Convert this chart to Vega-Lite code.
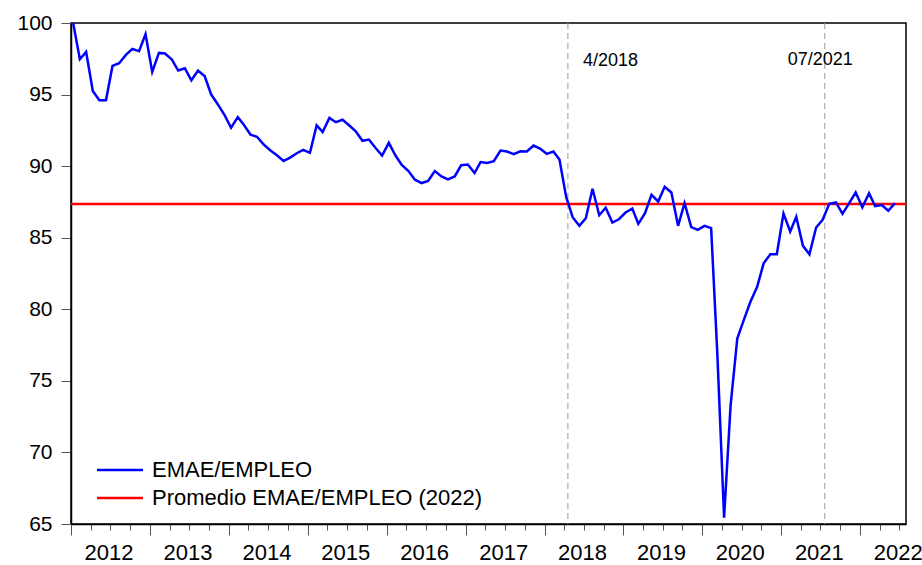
{
  "$schema": "https://vega.github.io/schema/vega-lite/v6.json",
  "width": 835,
  "height": 501,
  "autosize": {"type": "none"},
  "padding": {"left": 71, "top": 23, "right": 16, "bottom": 41},
  "background": "white",
  "config": {
    "font": "Liberation Sans",
    "view": {"stroke": "#000000", "strokeWidth": 1.5},
    "axis": {"domainColor": "#000000", "domainWidth": 1.5, "labelColor": "#000000", "labelFont": "Liberation Sans", "labelFontSize": 21, "grid": false, "title": null, "tickColor": "#555555", "tickWidth": 1}
  },
  "datasets": {
    "serie": [
      {"fecha": "2012-01-11", "valor": 100.0}, {"fecha": "2012-02-11", "valor": 97.47}, {"fecha": "2012-03-11", "valor": 97.98}, {"fecha": "2012-04-11", "valor": 95.25}, {"fecha": "2012-05-11", "valor": 94.6}, {"fecha": "2012-06-11", "valor": 94.6}, {"fecha": "2012-07-11", "valor": 97.0}, {"fecha": "2012-08-11", "valor": 97.19}, {"fecha": "2012-09-11", "valor": 97.77}, {"fecha": "2012-10-11", "valor": 98.19}, {"fecha": "2012-11-11", "valor": 98.03}, {"fecha": "2012-12-11", "valor": 99.22},
      {"fecha": "2013-01-11", "valor": 96.58}, {"fecha": "2013-02-11", "valor": 97.91}, {"fecha": "2013-03-11", "valor": 97.87}, {"fecha": "2013-04-11", "valor": 97.47}, {"fecha": "2013-05-11", "valor": 96.68}, {"fecha": "2013-06-11", "valor": 96.84}, {"fecha": "2013-07-11", "valor": 96.0}, {"fecha": "2013-08-11", "valor": 96.68}, {"fecha": "2013-09-11", "valor": 96.28}, {"fecha": "2013-10-11", "valor": 95.0}, {"fecha": "2013-11-11", "valor": 94.31}, {"fecha": "2013-12-11", "valor": 93.59},
      {"fecha": "2014-01-11", "valor": 92.68}, {"fecha": "2014-02-11", "valor": 93.42}, {"fecha": "2014-03-11", "valor": 92.89}, {"fecha": "2014-04-11", "valor": 92.19}, {"fecha": "2014-05-11", "valor": 92.05}, {"fecha": "2014-06-11", "valor": 91.51}, {"fecha": "2014-07-11", "valor": 91.11}, {"fecha": "2014-08-11", "valor": 90.76}, {"fecha": "2014-09-11", "valor": 90.36}, {"fecha": "2014-10-11", "valor": 90.6}, {"fecha": "2014-11-11", "valor": 90.9}, {"fecha": "2014-12-11", "valor": 91.14},
      {"fecha": "2015-01-11", "valor": 90.93}, {"fecha": "2015-02-11", "valor": 92.85}, {"fecha": "2015-03-11", "valor": 92.39}, {"fecha": "2015-04-11", "valor": 93.37}, {"fecha": "2015-05-11", "valor": 93.07}, {"fecha": "2015-06-11", "valor": 93.24}, {"fecha": "2015-07-11", "valor": 92.86}, {"fecha": "2015-08-11", "valor": 92.44}, {"fecha": "2015-09-11", "valor": 91.77}, {"fecha": "2015-10-11", "valor": 91.86}, {"fecha": "2015-11-11", "valor": 91.27}, {"fecha": "2015-12-11", "valor": 90.74},
      {"fecha": "2016-01-11", "valor": 91.63}, {"fecha": "2016-02-11", "valor": 90.74}, {"fecha": "2016-03-11", "valor": 90.08}, {"fecha": "2016-04-11", "valor": 89.66}, {"fecha": "2016-05-11", "valor": 89.05}, {"fecha": "2016-06-11", "valor": 88.82}, {"fecha": "2016-07-11", "valor": 88.96}, {"fecha": "2016-08-11", "valor": 89.66}, {"fecha": "2016-09-11", "valor": 89.28}, {"fecha": "2016-10-11", "valor": 89.07}, {"fecha": "2016-11-11", "valor": 89.28}, {"fecha": "2016-12-11", "valor": 90.06},
      {"fecha": "2017-01-11", "valor": 90.11}, {"fecha": "2017-02-11", "valor": 89.52}, {"fecha": "2017-03-11", "valor": 90.29}, {"fecha": "2017-04-11", "valor": 90.22}, {"fecha": "2017-05-11", "valor": 90.34}, {"fecha": "2017-06-11", "valor": 91.09}, {"fecha": "2017-07-11", "valor": 91.02}, {"fecha": "2017-08-11", "valor": 90.83}, {"fecha": "2017-09-11", "valor": 91.04}, {"fecha": "2017-10-11", "valor": 91.02}, {"fecha": "2017-11-11", "valor": 91.44}, {"fecha": "2017-12-11", "valor": 91.23},
      {"fecha": "2018-01-11", "valor": 90.86}, {"fecha": "2018-02-11", "valor": 91.02}, {"fecha": "2018-03-11", "valor": 90.46}, {"fecha": "2018-04-11", "valor": 87.85}, {"fecha": "2018-05-11", "valor": 86.43}, {"fecha": "2018-06-11", "valor": 85.83}, {"fecha": "2018-07-11", "valor": 86.36}, {"fecha": "2018-08-11", "valor": 88.42}, {"fecha": "2018-09-11", "valor": 86.57}, {"fecha": "2018-10-11", "valor": 87.09}, {"fecha": "2018-11-11", "valor": 86.06}, {"fecha": "2018-12-11", "valor": 86.29},
      {"fecha": "2019-01-11", "valor": 86.76}, {"fecha": "2019-02-11", "valor": 87.04}, {"fecha": "2019-03-11", "valor": 85.97}, {"fecha": "2019-04-11", "valor": 86.72}, {"fecha": "2019-05-11", "valor": 88.0}, {"fecha": "2019-06-11", "valor": 87.53}, {"fecha": "2019-07-11", "valor": 88.56}, {"fecha": "2019-08-11", "valor": 88.16}, {"fecha": "2019-09-11", "valor": 85.83}, {"fecha": "2019-10-11", "valor": 87.42}, {"fecha": "2019-11-11", "valor": 85.74}, {"fecha": "2019-12-11", "valor": 85.55},
      {"fecha": "2020-01-11", "valor": 85.83}, {"fecha": "2020-02-11", "valor": 85.67}, {"fecha": "2020-03-11", "valor": 76.8}, {"fecha": "2020-04-11", "valor": 65.44}, {"fecha": "2020-05-11", "valor": 73.27}, {"fecha": "2020-06-11", "valor": 77.95}, {"fecha": "2020-07-11", "valor": 79.24}, {"fecha": "2020-08-11", "valor": 80.52}, {"fecha": "2020-09-11", "valor": 81.57}, {"fecha": "2020-10-11", "valor": 83.21}, {"fecha": "2020-11-11", "valor": 83.84}, {"fecha": "2020-12-11", "valor": 83.84},
      {"fecha": "2021-01-11", "valor": 86.69}, {"fecha": "2021-02-11", "valor": 85.43}, {"fecha": "2021-03-11", "valor": 86.46}, {"fecha": "2021-04-11", "valor": 84.43}, {"fecha": "2021-05-11", "valor": 83.84}, {"fecha": "2021-06-11", "valor": 85.71}, {"fecha": "2021-07-11", "valor": 86.25}, {"fecha": "2021-08-11", "valor": 87.37}, {"fecha": "2021-09-11", "valor": 87.46}, {"fecha": "2021-10-11", "valor": 86.67}, {"fecha": "2021-11-11", "valor": 87.42}, {"fecha": "2021-12-11", "valor": 88.16},
      {"fecha": "2022-01-11", "valor": 87.13}, {"fecha": "2022-02-11", "valor": 88.11}, {"fecha": "2022-03-11", "valor": 87.2}, {"fecha": "2022-04-11", "valor": 87.28}, {"fecha": "2022-05-11", "valor": 86.88}, {"fecha": "2022-06-11", "valor": 87.42}
    ],
    "promedio": [{"serie": "Promedio EMAE/EMPLEO (2022)", "valor": 87.35}],
    "eventos": [{"fecha": "2018-04-19", "etiqueta": "4/2018"}, {"fecha": "2021-07-21", "etiqueta": "07/2021"}]
  },
  "layer": [
    {
      "data": {"name": "eventos"},
      "mark": {"type": "rule", "color": "#9a9a9a", "strokeDash": [6, 4], "strokeWidth": 1},
      "encoding": {
        "x": {"field": "fecha", "type": "temporal", "scale": {"type": "utc", "domain": [{"year": 2012, "month": 1, "date": 1, "utc": true}, {"year": 2022, "month": 8, "date": 1, "utc": true}]},
          "axis": {"tickCount": {"interval": "month", "step": 3}, "tickSize": {"condition": {"test": "utcmonth(datum.value) == 0", "value": 11}, "value": 6}, "labelExpr": "utcmonth(datum.value) == 0 ? utcFormat(datum.value, '%Y') : ''", "labelOffset": 37.5, "labelOverlap": false, "labelBound": false, "labelFlush": false, "labelPadding": 7, "labelFontSize": 22, "title": null}}
      }
    },
    {
      "data": {"name": "promedio"},
      "mark": {"type": "rule", "strokeWidth": 2.5},
      "encoding": {
        "y": {"field": "valor", "type": "quantitative", "scale": {"domain": [65, 100], "zero": false, "nice": false},
          "axis": {"values": [65, 70, 75, 80, 85, 90, 95, 100], "tickSize": 10, "labelPadding": 9, "title": null}},
        "color": {"field": "serie", "type": "nominal",
          "scale": {"domain": ["EMAE/EMPLEO", "Promedio EMAE/EMPLEO (2022)"], "range": ["#0000ff", "#ff0000"]},
          "legend": {"title": null, "orient": "none", "legendX": 36, "legendY": 434, "symbolType": "M-2,0H2", "symbolSize": 529, "symbolStrokeWidth": 2.5, "labelFontSize": 22, "labelFont": "Liberation Sans", "labelColor": "#000000", "labelOffset": 19, "labelLimit": 600, "rowPadding": 4, "padding": 0}}
      }
    },
    {
      "data": {"name": "serie"},
      "mark": {"type": "line", "strokeWidth": 2.5},
      "encoding": {
        "x": {"field": "fecha", "type": "temporal", "scale": {"type": "utc", "domain": [{"year": 2012, "month": 1, "date": 1, "utc": true}, {"year": 2022, "month": 8, "date": 1, "utc": true}]},
          "axis": {"tickCount": {"interval": "month", "step": 3}, "tickSize": {"condition": {"test": "utcmonth(datum.value) == 0", "value": 11}, "value": 6}, "labelExpr": "utcmonth(datum.value) == 0 ? utcFormat(datum.value, '%Y') : ''", "labelOffset": 37.5, "labelOverlap": false, "labelBound": false, "labelFlush": false, "labelPadding": 7, "labelFontSize": 22, "title": null}},
        "y": {"field": "valor", "type": "quantitative", "scale": {"domain": [65, 100], "zero": false, "nice": false},
          "axis": {"values": [65, 70, 75, 80, 85, 90, 95, 100], "tickSize": 10, "labelPadding": 9, "title": null}},
        "color": {"datum": "EMAE/EMPLEO", "type": "nominal"}
      }
    },
    {
      "data": {"name": "eventos"},
      "transform": [{"filter": "datum.etiqueta == '4/2018'"}],
      "mark": {"type": "text", "align": "left", "baseline": "alphabetic", "dx": 15, "fontSize": 18, "font": "Liberation Sans", "color": "#000000"},
      "encoding": {
        "x": {"field": "fecha", "type": "temporal"},
        "y": {"datum": 97},
        "text": {"field": "etiqueta"}
      }
    },
    {
      "data": {"name": "eventos"},
      "transform": [{"filter": "datum.etiqueta == '07/2021'"}],
      "mark": {"type": "text", "align": "left", "baseline": "alphabetic", "dx": -37, "fontSize": 18, "font": "Liberation Sans", "color": "#000000"},
      "encoding": {
        "x": {"field": "fecha", "type": "temporal"},
        "y": {"datum": 97.1},
        "text": {"field": "etiqueta"}
      }
    }
  ]
}
